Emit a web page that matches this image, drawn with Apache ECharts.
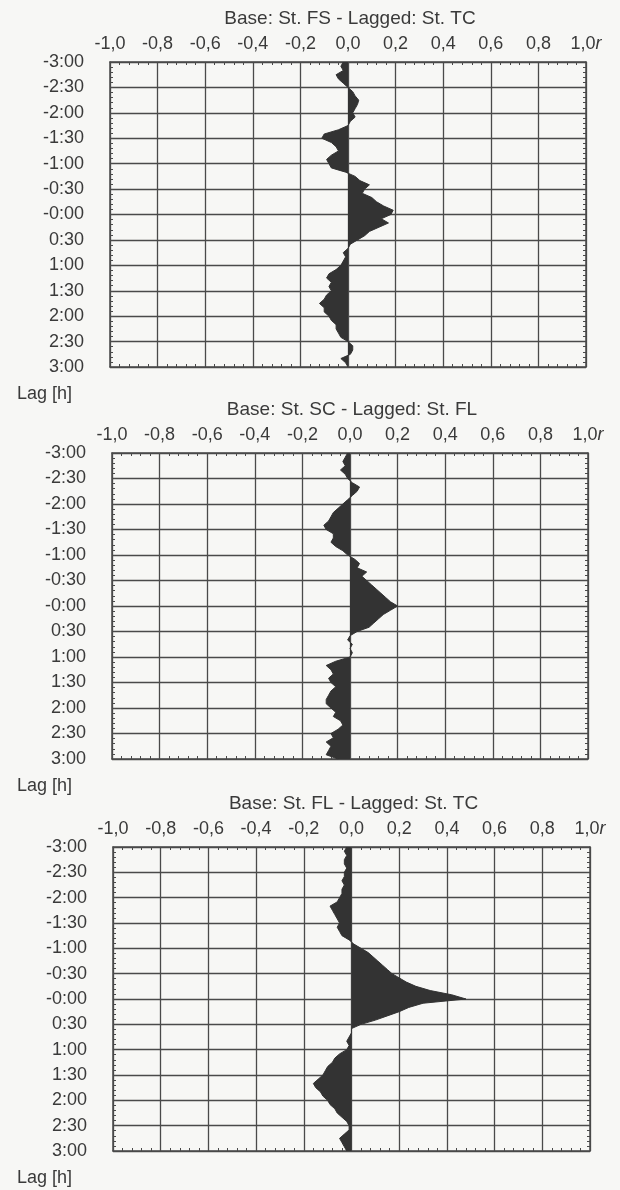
<!DOCTYPE html>
<html>
<head>
<meta charset="utf-8">
<script src="https://cdn.jsdelivr.net/npm/echarts@6/dist/echarts.min.js"></script>
<style>
html,body{margin:0;padding:0;background:#f7f7f5;}
#chart{width:620px;height:1190px;}
</style>
</head>
<body>
<div id="chart"></div>
<script>
// Lag in minutes (5-min steps), top (-3:00) to bottom (3:00)
const lagMinutes = [-180,-175,-170,-165,-160,-155,-150,-145,-140,-135,-130,-125,-120,-115,-110,-105,-100,-95,-90,-85,-80,-75,-70,-65,-60,-55,-50,-45,-40,-35,-30,-25,-20,-15,-10,-5,0,5,10,15,20,25,30,35,40,45,50,55,60,65,70,75,80,85,90,95,100,105,110,115,120,125,130,135,140,145,150,155,160,165,170,175,180];

const lagLabels = ['-3:00','-2:30','-2:00','-1:30','-1:00','-0:30','-0:00','0:30','1:00','1:30','2:00','2:30','3:00'];
const rLabels = ['-1,0','-0,8','-0,6','-0,4','-0,2','0,0','0,2','0,4','0,6','0,8','1,0'];

const titles = ['Base: St. FS - Lagged: St. TC','Base: St. SC - Lagged: St. FL','Base: St. FL - Lagged: St. TC'];

const rFS_TC = [-0.02,-0.03,-0.02,-0.05,-0.04,-0.02,0.00,0.02,0.03,0.045,0.04,0.03,0.02,0.03,0.01,0.00,-0.04,-0.10,-0.11,-0.07,-0.05,-0.04,-0.07,-0.09,-0.08,-0.07,-0.01,0.03,0.05,0.09,0.07,0.06,0.10,0.12,0.15,0.19,0.18,0.14,0.17,0.13,0.09,0.07,0.04,0.01,0.00,-0.02,-0.01,-0.02,-0.03,-0.05,-0.08,-0.09,-0.07,-0.08,-0.07,-0.09,-0.10,-0.12,-0.10,-0.10,-0.08,-0.07,-0.05,-0.05,-0.04,-0.03,0.00,0.02,0.02,0.01,-0.03,-0.01,0.00];

const rSC_FL = [-0.01,-0.02,-0.03,-0.02,-0.04,-0.02,-0.01,0.01,0.04,0.03,0.01,-0.01,-0.03,-0.05,-0.07,-0.08,-0.09,-0.11,-0.10,-0.07,-0.07,-0.08,-0.06,-0.03,-0.01,0.02,0.04,0.03,0.07,0.05,0.07,0.09,0.11,0.13,0.15,0.17,0.20,0.17,0.14,0.12,0.10,0.08,0.03,0.00,-0.01,0.01,0.00,0.01,0.00,-0.06,-0.10,-0.08,-0.07,-0.09,-0.08,-0.06,-0.08,-0.09,-0.10,-0.10,-0.08,-0.06,-0.07,-0.04,-0.03,-0.05,-0.08,-0.07,-0.10,-0.08,-0.09,-0.10,-0.05];

const rFL_TC = [-0.02,-0.03,-0.02,-0.03,-0.03,-0.02,-0.03,-0.03,-0.04,-0.03,-0.04,-0.04,-0.05,-0.06,-0.09,-0.08,-0.07,-0.06,-0.05,-0.06,-0.05,-0.04,-0.01,0.01,0.04,0.07,0.09,0.11,0.13,0.15,0.17,0.20,0.23,0.27,0.33,0.42,0.48,0.30,0.24,0.20,0.15,0.10,0.04,0.00,0.00,-0.01,-0.02,-0.01,-0.02,-0.05,-0.07,-0.08,-0.10,-0.11,-0.12,-0.14,-0.16,-0.15,-0.13,-0.12,-0.10,-0.09,-0.07,-0.06,-0.04,-0.02,-0.01,-0.01,-0.03,-0.05,-0.04,-0.03,-0.02];

const panelData = [rFS_TC, rSC_FL, rFL_TC];

const FONT = 'Liberation Sans';
const TXT = '#3a3a3a';
const LINE = '#4a4a4a';
const FS = 18;

const grids = [
  {left:110, top:62, width:476, height:305},
  {left:112, top:453, width:476, height:306},
  {left:113, top:847, width:477, height:304}
];

const option = {
  backgroundColor:'#f7f7f5',
  animation:false,
  grid:[], xAxis:[], yAxis:[], series:[], graphic:[]
};

grids.forEach((g, i) => {
  option.grid.push({left:g.left, top:g.top, width:g.width, height:g.height, containLabel:false, show:false});
  // top r axis with labels
  option.xAxis.push({
    type:'value', gridIndex:i, position:'top', min:-1, max:1, interval:0.2,
    axisLine:{show:true, onZero:false, lineStyle:{color:LINE, width:1.5}},
    axisTick:{show:true, inside:true, length:3, lineStyle:{color:LINE}},
    minorTick:{show:true, splitNumber:5, length:3, lineStyle:{color:LINE, width:1}},
    splitLine:{show:true, lineStyle:{color:LINE, width:1.3}},
    axisLabel:{
      margin:9, color:TXT, fontFamily:FONT, fontSize:FS,
      formatter:(v) => {
        const idx = Math.round((v + 1) / 0.2);
        if (idx === rLabels.length - 1) return '{n|' + rLabels[idx] + '}{i|r}';
        return rLabels[idx];
      },
      rich:{
        n:{fontFamily:FONT, fontSize:FS, color:TXT},
        i:{fontFamily:FONT, fontSize:FS, color:TXT, fontStyle:'italic'}
      }
    }
  });
  // bottom frame axis
  option.xAxis.push({
    type:'value', gridIndex:i, position:'bottom', min:-1, max:1, interval:0.2,
    axisLine:{show:true, onZero:false, lineStyle:{color:LINE, width:1.5}},
    axisTick:{show:true, inside:true, length:3, lineStyle:{color:LINE}},
    minorTick:{show:true, splitNumber:5, length:3, lineStyle:{color:LINE, width:1}},
    splitLine:{show:false}, axisLabel:{show:false}
  });
  // hidden category axis for data
  option.yAxis.push({
    type:'category', gridIndex:i, data:lagMinutes, inverse:true, boundaryGap:false, show:false
  });
  // left lag axis with labels
  option.yAxis.push({
    type:'value', gridIndex:i, position:'left', min:-180, max:180, interval:30, inverse:true,
    axisLine:{show:true, onZero:false, lineStyle:{color:LINE, width:1.5}},
    axisTick:{show:true, inside:true, length:3, lineStyle:{color:LINE}},
    minorTick:{show:true, splitNumber:5, length:3, lineStyle:{color:LINE, width:1}},
    splitLine:{show:true, lineStyle:{color:LINE, width:1.3}},
    axisLabel:{
      margin:26, color:TXT, fontFamily:FONT, fontSize:FS,
      formatter:(v) => lagLabels[Math.round((v + 180) / 30)]
    }
  });
  // right frame axis
  option.yAxis.push({
    type:'value', gridIndex:i, position:'right', min:-180, max:180, interval:30, inverse:true,
    axisLine:{show:true, onZero:false, lineStyle:{color:LINE, width:1.5}},
    axisTick:{show:true, inside:true, length:3, lineStyle:{color:LINE}},
    minorTick:{show:true, splitNumber:5, length:3, lineStyle:{color:LINE, width:1}},
    splitLine:{show:false}, axisLabel:{show:false}
  });
  option.series.push({
    type:'line', xAxisIndex:i*2, yAxisIndex:i*3, data:panelData[i],
    symbol:'none', smooth:false,
    lineStyle:{color:'#333', width:1},
    areaStyle:{color:'#333', opacity:1, origin:0},
    z:1
  });
  // title
  option.graphic.push({
    type:'text', left:null, x:g.left + g.width/2 + 2, y:g.top - 43,
    style:{text:titles[i], fill:TXT, font:'19px "' + FONT + '"', textAlign:'center', textVerticalAlign:'middle'}
  });
  // Lag [h]
  option.graphic.push({
    type:'text', x:17, y:g.top + g.height + 27,
    style:{text:'Lag [h]', fill:TXT, font:FS + 'px "' + FONT + '"', textAlign:'left', textVerticalAlign:'middle'}
  });
});

const chart = echarts.init(document.getElementById('chart'), null, {renderer:'canvas'});
chart.setOption(option);
</script>
</body>
</html>
